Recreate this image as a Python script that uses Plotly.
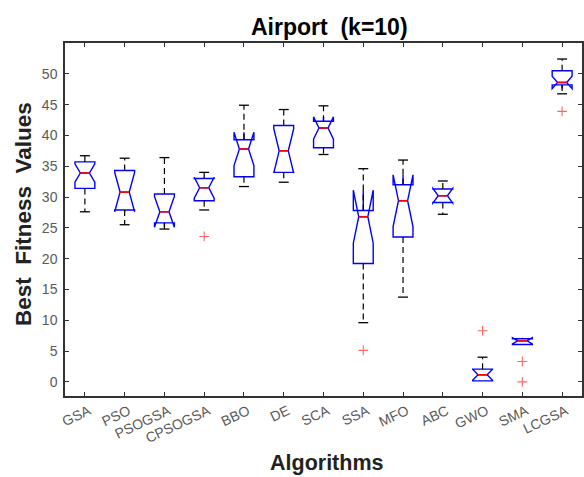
import plotly.graph_objects as go

categories = ['GSA', 'PSO', 'PSOGSA', 'CPSOGSA', 'BBO', 'DE', 'SCA', 'SSA', 'MFO', 'ABC', 'GWO', 'SMA', 'LCGSA']
upper_whisker = [36.7, 36.3, 36.4, 34.0, 44.9, 44.2, 44.8, 34.6, 36.0, 32.6, 4.0, 7.0, 52.4]
q3_values = [35.7, 34.3, 30.5, 33.0, 39.3, 41.6, 42.3, 27.8, 32.0, 31.3, 2.06, 7.0, 50.5]
median_values = [33.9, 30.8, 27.6, 31.5, 37.8, 37.5, 41.2, 26.8, 29.4, 30.2, 1.14, 6.65, 48.6]
q1_values = [31.4, 27.9, 25.8, 29.4, 33.3, 34.0, 38.0, 19.2, 23.5, 29.1, 0.16, 6.06, 48.2]
lower_whisker = [27.6, 25.5, 24.8, 27.9, 31.7, 32.4, 36.9, 9.6, 13.75, 27.2, 0.16, 6.06, 46.75]
notch_span = [1.5, 3.2, 2.5, 1.7, 2.7, 3.6, 1.8, 4.3, 4.2, 1.2, 0.9, 0.5, 1.0]
outlier_algo = ['CPSOGSA', 'SSA', 'GWO', 'SMA', 'SMA', 'LCGSA']
outlier_vals = [23.6, 5.1, 8.3, 3.3, 0.0, 43.9]
y_ticks = [0, 5, 10, 15, 20, 25, 30, 35, 40, 45, 50]

pos = list(range(1, len(categories) + 1))
BOX_W = 0.5
NOTCH_W = 0.27
CAP_HW = 0.125

fig = go.Figure()

# whiskers (dashed) and caps
wx, wy, cx, cy = [], [], [], []
for p, u, t, b, l in zip(pos, upper_whisker, q3_values, q1_values, lower_whisker):
    if u > t:
        wx += [p, p, None]; wy += [t, u, None]
        cx += [p - CAP_HW, p + CAP_HW, None]; cy += [u, u, None]
    if l < b:
        wx += [p, p, None]; wy += [b, l, None]
        cx += [p - CAP_HW, p + CAP_HW, None]; cy += [l, l, None]
fig.add_trace(go.Scatter(x=wx, y=wy, mode='lines', line=dict(color='black', width=1.2, dash='6px,4px'),
                         hoverinfo='skip', showlegend=False))
fig.add_trace(go.Scatter(x=cx, y=cy, mode='lines', line=dict(color='black', width=1.3),
                         hoverinfo='skip', showlegend=False))

fig.add_trace(go.Box(
    x=pos, q1=q1_values, median=median_values, q3=q3_values,
    lowerfence=q1_values, upperfence=q3_values, notchspan=notch_span,
    notched=True, notchwidth=NOTCH_W, width=BOX_W, whiskerwidth=0,
    line=dict(color='#0000ff', width=1.4), fillcolor='rgba(0,0,0,0)',
    boxpoints=False, showlegend=False))

# red medians
mhw = BOX_W / 2 * (1 - 2 * NOTCH_W)
mx, my = [], []
for p, m in zip(pos, median_values):
    mx += [p - mhw, p + mhw, None]; my += [m, m, None]
fig.add_trace(go.Scatter(x=mx, y=my, mode='lines', line=dict(color='#ff0000', width=1.6),
                         hoverinfo='skip', showlegend=False))

# outliers
ox = [categories.index(a) + 1 for a in outlier_algo]
fig.add_trace(go.Scatter(x=ox, y=outlier_vals, mode='markers',
                         marker=dict(symbol='cross-thin', size=7, line=dict(color='#ff6666', width=1.1)),
                         showlegend=False))

FONT = 'Liberation Sans, Arial, sans-serif'
axis_font = dict(family=FONT, size=14, color='#5a5a5a')
fig.update_layout(
    width=584, height=477,
    margin=dict(l=65, r=0, t=43, b=81),
    plot_bgcolor='white', paper_bgcolor='white',
    xaxis=dict(range=[0.5, 13.5], tickmode='array', tickvals=pos, ticktext=categories,
               tickangle=-25, ticks='inside', ticklen=4, tickcolor='#333333',
               ticklabelshift=4,
               showline=True, linecolor='#333333', linewidth=1.5, mirror='ticks',
               showgrid=False, zeroline=False, tickfont=axis_font),
    yaxis=dict(range=[-2.3, 55.0], tickmode='array', tickvals=y_ticks,
               ticks='inside', ticklen=4, tickcolor='#333333',
               ticklabelstandoff=3,
               showline=True, linecolor='#333333', linewidth=1.5, mirror='ticks',
               showgrid=False, zeroline=False, tickfont=axis_font),
    annotations=[
        dict(text='<b>Airport  (k=10)</b>', x=(331 - 65) / 519, y=1, xref='paper', yref='paper',
             yshift=16, showarrow=False, xanchor='center', yanchor='middle',
             font=dict(family=FONT, size=23, color='black')),
        dict(text='<b>Algorithms</b>', x=(328 - 65) / 519, y=0, xref='paper', yref='paper',
             yshift=-67, showarrow=False, xanchor='center', yanchor='middle',
             font=dict(family=FONT, size=21.5, color='#222222')),
        dict(text='<b>Best  Fitness  Values</b>', x=0, y=(396 - 214) / 353, xref='paper', yref='paper',
             xshift=-42, showarrow=False, xanchor='center', yanchor='middle', textangle=-90,
             font=dict(family=FONT, size=22.5, color='#222222')),
    ],
)

fig.write_html('out.html', config={'displayModeBar': False},
               post_script="document.body.style.margin='0';document.body.style.overflow='hidden';")
